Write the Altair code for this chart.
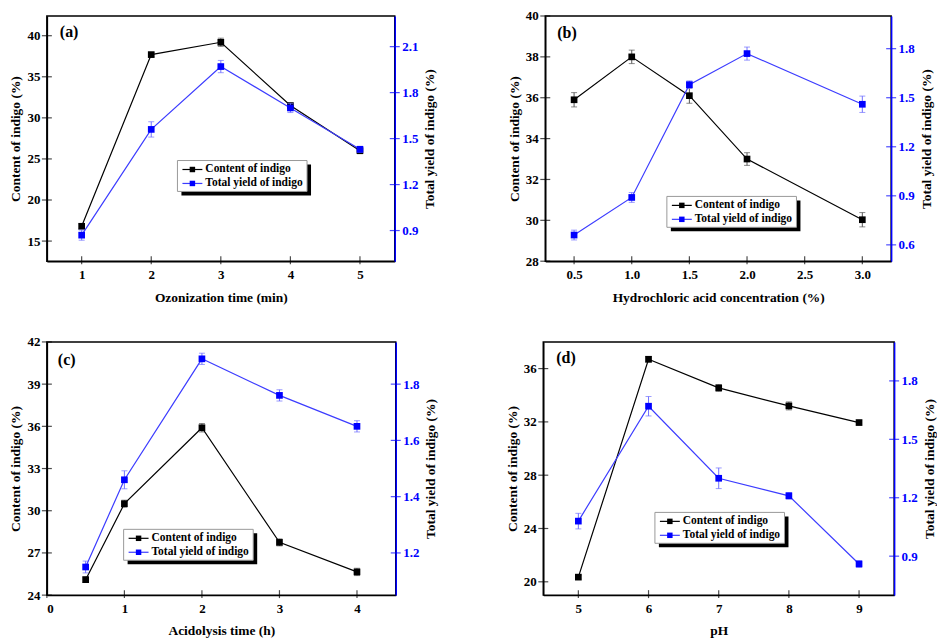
import altair as alt
import pandas as pd

FONT = "Liberation Serif"
BLUE = "#0000FF"
BLUE_LINE = "#3C3CFF"
BLUE_ERR = "#7070FF"
GREY_ERR = "#555555"

CONTENT_NAME = "Content of indigo"
YIELD_NAME = "Total yield of indigo"
LEFT_TITLE = "Content of indigo (%)"
RIGHT_TITLE = "Total yield of indigo (%)"

# ---- panel (a) ----
a_x = [1, 2, 3, 4, 5]
a_content = [16.8, 37.7, 39.2, 31.5, 26.0]
a_content_err = [0.3, 0.25, 0.5, 0.23, 0.35]
a_yield = [0.87, 1.56, 1.97, 1.70, 1.43]
a_yield_err = [0.033, 0.05, 0.04, 0.03, 0.02]

# ---- panel (b) ----
b_x = [0.5, 1.0, 1.5, 2.0, 3.0]
b_content = [35.9, 38.0, 36.1, 33.0, 30.03]
b_content_err = [0.35, 0.33, 0.37, 0.31, 0.35]
b_yield = [0.66, 0.89, 1.58, 1.77, 1.46]
b_yield_err = [0.03, 0.03, 0.023, 0.04, 0.05]

# ---- panel (c) ----
c_x = [0.5, 1, 2, 3, 4]
c_content = [25.1, 30.5, 35.9, 27.75, 25.65]
c_content_err = [0.2, 0.25, 0.3, 0.25, 0.26]
c_yield = [1.15, 1.46, 1.89, 1.76, 1.65]
c_yield_err = [0.021, 0.032, 0.02, 0.02, 0.02]

# ---- panel (d) ----
d_x = [5, 6, 7, 8, 9]
d_content = [20.35, 36.7, 34.55, 33.2, 31.95]
d_content_err = [0.15, 0.2, 0.25, 0.3, 0.15]
d_yield = [1.08, 1.67, 1.30, 1.21, 0.86]
d_yield_err = [0.04, 0.05, 0.053, 0.017, 0.017]


def panel(xs, content, content_err, yld, yld_err, xdom, xticks, xfmt, xtitle,
          ldom, lticks, rdom, rticks, label, label_pos, leg_pos, w, h):
    df = pd.DataFrame({
        "x": xs,
        "c": content,
        "c_lo": [v - e for v, e in zip(content, content_err)],
        "c_hi": [v + e for v, e in zip(content, content_err)],
        "y": yld,
        "y_lo": [v - e for v, e in zip(yld, yld_err)],
        "y_hi": [v + e for v, e in zip(yld, yld_err)],
    })
    base = alt.Chart(df)
    xscale = alt.Scale(domain=xdom, nice=False, zero=False)
    xaxis = alt.Axis(values=xticks, format=xfmt, title=xtitle, titlePadding=9,
                     ticks=False, labelPadding=7)
    xenc = alt.X("x:Q", scale=xscale, axis=xaxis)
    lscale = alt.Scale(domain=ldom, nice=False, zero=False)
    laxis = alt.Axis(orient="left", values=lticks, format="d", title=LEFT_TITLE,
                     titlePadding=4, ticks=False, labelPadding=7)
    rscale = alt.Scale(domain=rdom, nice=False, zero=False)
    raxis = alt.Axis(orient="right", values=rticks, format=".1f", title=RIGHT_TITLE,
                     domainColor=BLUE, labelColor=BLUE, ticks=False, labelPadding=7,
                     titleAngle=270, titleBaseline="top", titlePadding=5)

    def series(f, lo, hi, scale, axis, line_color, pt_color, err_color):
        rule = base.mark_rule(color=err_color, strokeWidth=1).encode(
            x=xenc, y=alt.Y(f"{lo}:Q", scale=scale, axis=axis), y2=f"{hi}:Q")
        cap_lo = base.mark_tick(orient="horizontal", size=6, thickness=1, color=err_color).encode(
            x=xenc, y=alt.Y(f"{lo}:Q", scale=scale, axis=axis))
        cap_hi = base.mark_tick(orient="horizontal", size=6, thickness=1, color=err_color).encode(
            x=xenc, y=alt.Y(f"{hi}:Q", scale=scale, axis=axis))
        line = base.mark_line(color=line_color, strokeWidth=1.2).encode(
            x=xenc, y=alt.Y(f"{f}:Q", scale=scale, axis=axis))
        pts = base.mark_point(shape="square", filled=True, size=45, color=pt_color, opacity=1).encode(
            x=xenc, y=alt.Y(f"{f}:Q", scale=scale, axis=axis))
        return [rule, cap_lo, cap_hi, line, pts]

    # inward tick marks (the original axes draw ticks inside the frame)
    ltick = alt.Chart(pd.DataFrame({"v": lticks})).mark_tick(
        orient="horizontal", size=10, thickness=1.2, color="black").encode(
        x=alt.value(0), y=alt.Y("v:Q", scale=lscale, axis=laxis))
    rtick = alt.Chart(pd.DataFrame({"v": rticks})).mark_tick(
        orient="horizontal", size=10, thickness=1.2, color=BLUE).encode(
        x=alt.value(w), y=alt.Y("v:Q", scale=rscale, axis=raxis))
    xtick = alt.Chart(pd.DataFrame({"v": xticks})).mark_tick(
        orient="vertical", size=8, thickness=1.2, color="black").encode(
        x=alt.X("v:Q", scale=xscale, axis=xaxis), y=alt.value(h - 1))

    content_layer = alt.layer(ltick, xtick,
                              *series("c", "c_lo", "c_hi", lscale, laxis, "black", "black", GREY_ERR))
    yield_layer = alt.layer(rtick,
                            *series("y", "y_lo", "y_hi", rscale, raxis, BLUE_LINE, BLUE, BLUE_ERR))

    one = pd.DataFrame({"t": [label]})
    lab = alt.Chart(one).mark_text(font=FONT, fontSize=16, fontWeight="bold", align="left",
                                   baseline="alphabetic", color="black").encode(
        x=alt.value(label_pos[0]), y=alt.value(label_pos[1]), text="t:N")

    lx, ly = leg_pos
    lw, lh = 130, 31
    blank = pd.DataFrame({"k": [0]})
    shadow = alt.Chart(blank).mark_rect(color="black").encode(
        x=alt.value(lx + 4), x2=alt.value(lx + lw + 4), y=alt.value(ly + 4), y2=alt.value(ly + lh + 4))
    box = alt.Chart(blank).mark_rect(fill="white", stroke="#999999", strokeWidth=1).encode(
        x=alt.value(lx), x2=alt.value(lx + lw), y=alt.value(ly), y2=alt.value(ly + lh))
    leg_layers = [shadow, box]
    for i, (name, lc, pc) in enumerate([(CONTENT_NAME, "black", "black"),
                                         (YIELD_NAME, BLUE_LINE, BLUE)]):
        yy = ly + 9 + 14 * i
        d1 = pd.DataFrame({"t": [name]})
        leg_layers.append(alt.Chart(d1).mark_rule(color=lc, strokeWidth=1.2).encode(
            x=alt.value(lx + 5), x2=alt.value(lx + 25), y=alt.value(yy)))
        leg_layers.append(alt.Chart(d1).mark_point(shape="square", filled=True, size=30,
                                                   color=pc, opacity=1).encode(
            x=alt.value(lx + 15), y=alt.value(yy)))
        leg_layers.append(alt.Chart(d1).mark_text(font=FONT, fontSize=11.5, fontWeight="bold",
                                                  align="left", baseline="middle",
                                                  color="black").encode(
            x=alt.value(lx + 28), y=alt.value(yy), text="t:N"))

    return alt.layer(content_layer, yield_layer, lab, *leg_layers).resolve_scale(
        y="independent").properties(width=w, height=h)


pa = panel(a_x, a_content, a_content_err, a_yield, a_yield_err,
           [0.5, 5.5], [1, 2, 3, 4, 5], "d", "Ozonization time (min)",
           [12.55, 42.4], [15, 20, 25, 30, 35, 40], [0.7, 2.3], [0.9, 1.2, 1.5, 1.8, 2.1],
           "(a)", (13, 21), (131, 145), 349, 246)
pb = panel(b_x, b_content, b_content_err, b_yield, b_yield_err,
           [0.25, 3.25], [0.5, 1.0, 1.5, 2.0, 2.5, 3.0], ".1f", "Hydrochloric acid concentration (%)",
           [28, 40], [28, 30, 32, 34, 36, 38, 40], [0.5, 2.0], [0.6, 0.9, 1.2, 1.5, 1.8],
           "(b)", (12, 22), (122, 181), 347, 246)
pc = panel(c_x, c_content, c_content_err, c_yield, c_yield_err,
           [0, 4.5], [0, 1, 2, 3, 4], "d", "Acidolysis time (h)",
           [24, 42], [24, 27, 30, 33, 36, 39, 42], [1.05, 1.95], [1.2, 1.4, 1.6, 1.8],
           "(c)", (11, 23), (77, 188), 350, 254)
pd_ = panel(d_x, d_content, d_content_err, d_yield, d_yield_err,
            [4.5, 9.5], [5, 6, 7, 8, 9], "d", "pH",
            [19, 38], [20, 24, 28, 32, 36], [0.7, 2.0], [0.9, 1.2, 1.5, 1.8],
            "(d)", (13, 21), (112, 171), 352, 254)

row1 = alt.hconcat(pa, pb, spacing=151, bounds="flush")
row2 = alt.hconcat(pc, pd_, spacing=148, bounds="flush")

chart = alt.vconcat(row1, row2, spacing=30).properties(
    padding=0, background="white"
).configure_axis(
    labelFont=FONT, labelFontSize=13, labelFontWeight="bold", labelColor="black",
    titleFont=FONT, titleFontSize=13.5, titleFontWeight="bold", titleColor="black",
    grid=False, domainColor="black", domainWidth=1.5, tickColor="black",
    tickWidth=1.2, tickSize=5, labelPadding=2
).configure_view(stroke="black", strokeWidth=1.5)

chart.save("out.html", embed_options={"renderer": "svg", "actions": False})
